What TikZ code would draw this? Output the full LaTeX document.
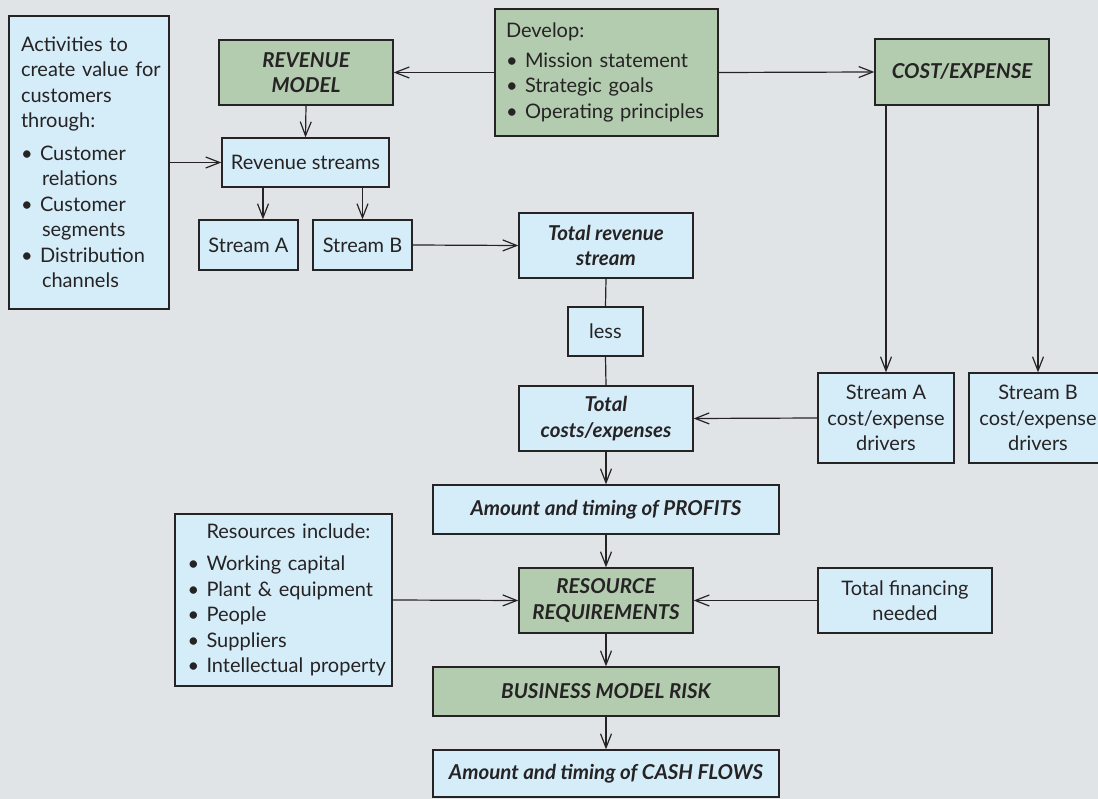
\documentclass[tikz,border=0pt]{standalone}
\usepackage{fontspec}
\setmainfont{Lato}
\usetikzlibrary{arrows.meta}
\definecolor{bgc}{HTML}{E1E4E7}
\definecolor{bluefill}{HTML}{D5ECF9}
\definecolor{greenfill}{HTML}{B3CBAF}
\definecolor{ink}{HTML}{262324}
% bullet item and hanging continuation line (never broken)
\newcommand{\bitem}[1]{\makebox[19pt][l]{\textbullet}\mbox{#1}}
\newcommand{\bcont}[1]{\hspace*{21pt}\mbox{#1}}
\begin{document}
\begin{tikzpicture}[x=1pt,y=-1pt,
  font=\fontsize{20}{25.5}\selectfont,
  box/.style={draw=ink, line width=1.3pt, inner sep=0pt, align=center, text=ink},
  bluebox/.style={box, fill=bluefill},
  greenbox/.style={box, fill=greenfill},
  bi/.style={font=\fontsize{20.5}{25.5}\selectfont\bfseries\itshape},
  conn/.style={draw=ink, line width=1.2pt},
  arr/.style={conn, -{Straight Barb[length=14pt,width=11pt]}}]
\fill[bgc] (0,0) rectangle (1098,799);
\useasboundingbox (0,0) rectangle (1098,799);

% value creation activities
\node[bluebox, minimum width=160pt, minimum height=293pt, text width=136pt, align=left] (act) at (89,162.5)
  {\mbox{Activities to}\\\mbox{create value for}\\customers\\through:\\[7pt]
   \bitem{Customer}\\\bcont{relations}\\\bitem{Customer}\\\bcont{segments}\\\bitem{Distribution}\\\bcont{channels}};

% revenue side
\node[greenbox, bi, minimum width=174pt, minimum height=65pt] (revmodel) at (306,72.5) {REVENUE\\MODEL};
\node[bluebox, minimum width=167pt, minimum height=49pt] (revstreams) at (305.5,162.5) {Revenue streams};
\node[bluebox, minimum width=99pt, minimum height=50pt] (streamA) at (248.5,245) {Stream A};
\node[bluebox, minimum width=99pt, minimum height=50pt] (streamB) at (362.5,245) {Stream B};

% strategy
\node[greenbox, minimum width=223pt, minimum height=127pt, text width=201pt, align=left] (develop) at (606.5,72.5)
  {Develop:\\[4pt]\bitem{Mission statement}\\\bitem{Strategic goals}\\\bitem{Operating principles}};

% cost side
\node[greenbox, bi, minimum width=174pt, minimum height=66pt] (cost) at (962,72) {COST/EXPENSE};
\node[bluebox, minimum width=136pt, minimum height=90pt] (costA) at (886,418) {Stream A\\cost/expense\\drivers};
\node[bluebox, minimum width=138pt, minimum height=90pt] (costB) at (1038,418) {Stream B\\cost/expense\\drivers};

% central column
\node[bluebox, bi, minimum width=174pt, minimum height=65pt] (totrev) at (606,245.5) {Total revenue\\stream};
\node[bluebox, minimum width=75pt, minimum height=49pt] (less) at (605.5,331.5) {less};
\node[bluebox, bi, minimum width=174pt, minimum height=65pt] (totcost) at (606,418.5) {Total\\costs/expenses};
\node[bluebox, bi, minimum width=346pt, minimum height=49pt] (profits) at (606,509.5) {Amount and timing of PROFITS};
\node[greenbox, bi, minimum width=174pt, minimum height=65pt] (resreq) at (606,600.5) {RESOURCE\\REQUIREMENTS};
\node[greenbox, bi, minimum width=346pt, minimum height=49pt] (bmr) at (606,691.5) {BUSINESS MODEL RISK};
\node[bluebox, bi, minimum width=346pt, minimum height=47pt] (cash) at (606,773.5) {Amount and timing of CASH FLOWS};

% resources and financing
\node[bluebox, minimum width=217pt, minimum height=172pt, text width=192pt, align=left] (resources) at (283.5,600)
  {\hspace*{19pt}Resources include:\\[7pt]\bitem{Working capital}\\\bitem{Plant \& equipment}\\\bitem{People}\\\bitem{Suppliers}\\\bitem{Intellectual property}};
\node[bluebox, minimum width=174pt, minimum height=65pt] (financing) at (905,600.5) {Total financing\\needed};

% connectors
\draw[arr] (develop.west) -- (revmodel.east);
\draw[arr] (develop.east) -- (cost.west);
\draw[arr] (revmodel.south) -- (revstreams.north);
\draw[arr] (act.east) -- (revstreams.west);
\draw[arr] ([xshift=14.5pt]streamA.north |- revstreams.south) -- ([xshift=14.5pt]streamA.north);
\draw[arr] (streamB.north |- revstreams.south) -- (streamB.north);
\draw[arr] (streamB.east) -- (totrev.west);
\draw[conn] (totrev.south) -- (less.north);
\draw[conn] (less.south) -- (totcost.north);
\draw[arr] (costA.north |- cost.south) -- (costA.north);
\draw[arr] (costB.north |- cost.south) -- (costB.north);
\draw[arr] (costA.west) -- (totcost.east);
\draw[arr] (totcost.south) -- (profits.north);
\draw[arr] (profits.south) -- (resreq.north);
\draw[arr] (resources.east) -- (resreq.west);
\draw[arr] (financing.west) -- (resreq.east);
\draw[arr] (resreq.south) -- (bmr.north);
\draw[arr] (bmr.south) -- (cash.north);
\end{tikzpicture}
\end{document}
